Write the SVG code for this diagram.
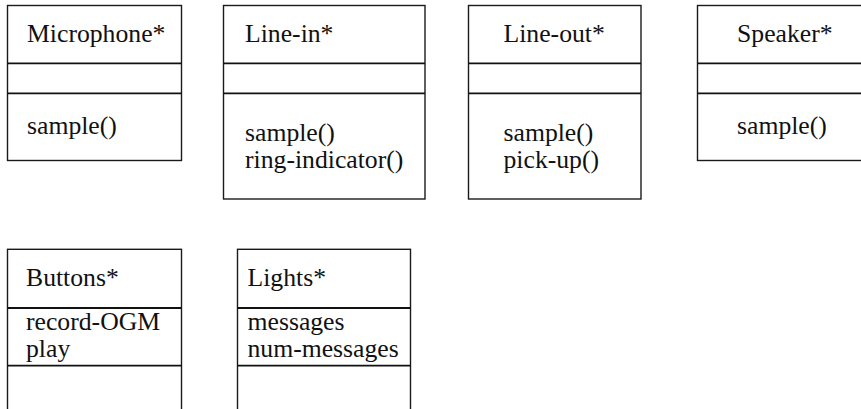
<svg xmlns="http://www.w3.org/2000/svg" width="861" height="409" viewBox="0 0 861 409">
<style>
.box{fill:#fff;stroke:#1a1a1a;stroke-width:1.4}
.div{stroke:#111;stroke-width:1.8;fill:none}
text{font-family:"Liberation Serif","Times New Roman",serif;font-size:25.7px;fill:#111}
</style>
<rect width="861" height="409" fill="#fff"/>
<g id="microphone">
<rect class="box" x="7.5" y="5.5" width="174" height="155"/>
<line class="div" x1="7.5" y1="63.3" x2="181.5" y2="63.3"/>
<line class="div" x1="7.5" y1="93.3" x2="181.5" y2="93.3"/>
<text x="27" y="41.5">Microphone*</text>
<text x="27" y="134">sample()</text>
</g>
<g id="line-in">
<rect class="box" x="223.5" y="5.5" width="201.5" height="193.5"/>
<line class="div" x1="223.5" y1="63.3" x2="425" y2="63.3"/>
<line class="div" x1="223.5" y1="93.3" x2="425" y2="93.3"/>
<text x="245" y="41.5">Line-in*</text>
<text x="245" y="140.5">sample()</text>
<text x="245" y="167.5">ring-indicator()</text>
</g>
<g id="line-out">
<rect class="box" x="468.5" y="5.5" width="172.5" height="193.5"/>
<line class="div" x1="468.5" y1="63.3" x2="641" y2="63.3"/>
<line class="div" x1="468.5" y1="93.3" x2="641" y2="93.3"/>
<text x="503.5" y="41.5">Line-out*</text>
<text x="503.5" y="140.5">sample()</text>
<text x="503.5" y="167.5">pick-up()</text>
</g>
<g id="speaker">
<rect class="box" x="697.5" y="5.5" width="173" height="155"/>
<line class="div" x1="697.5" y1="63.3" x2="870" y2="63.3"/>
<line class="div" x1="697.5" y1="93.3" x2="870" y2="93.3"/>
<text x="737" y="41.5">Speaker*</text>
<text x="737" y="134">sample()</text>
</g>
<g id="buttons">
<rect class="box" x="7.5" y="249.3" width="174" height="180"/>
<line class="div" x1="7.5" y1="308" x2="181.5" y2="308"/>
<line class="div" x1="7.5" y1="365.7" x2="181.5" y2="365.7"/>
<text x="26" y="286">Buttons*</text>
<text x="26" y="329.5">record-OGM</text>
<text x="26" y="356.5">play</text>
</g>
<g id="lights">
<rect class="box" x="237.5" y="249.3" width="173" height="180"/>
<line class="div" x1="237.5" y1="308" x2="410.5" y2="308"/>
<line class="div" x1="237.5" y1="365.7" x2="410.5" y2="365.7"/>
<text x="247.5" y="286">Lights*</text>
<text x="247.5" y="329.5">messages</text>
<text x="247.5" y="356.5">num-messages</text>
</g>
<g id="connectors"></g>
</svg>
